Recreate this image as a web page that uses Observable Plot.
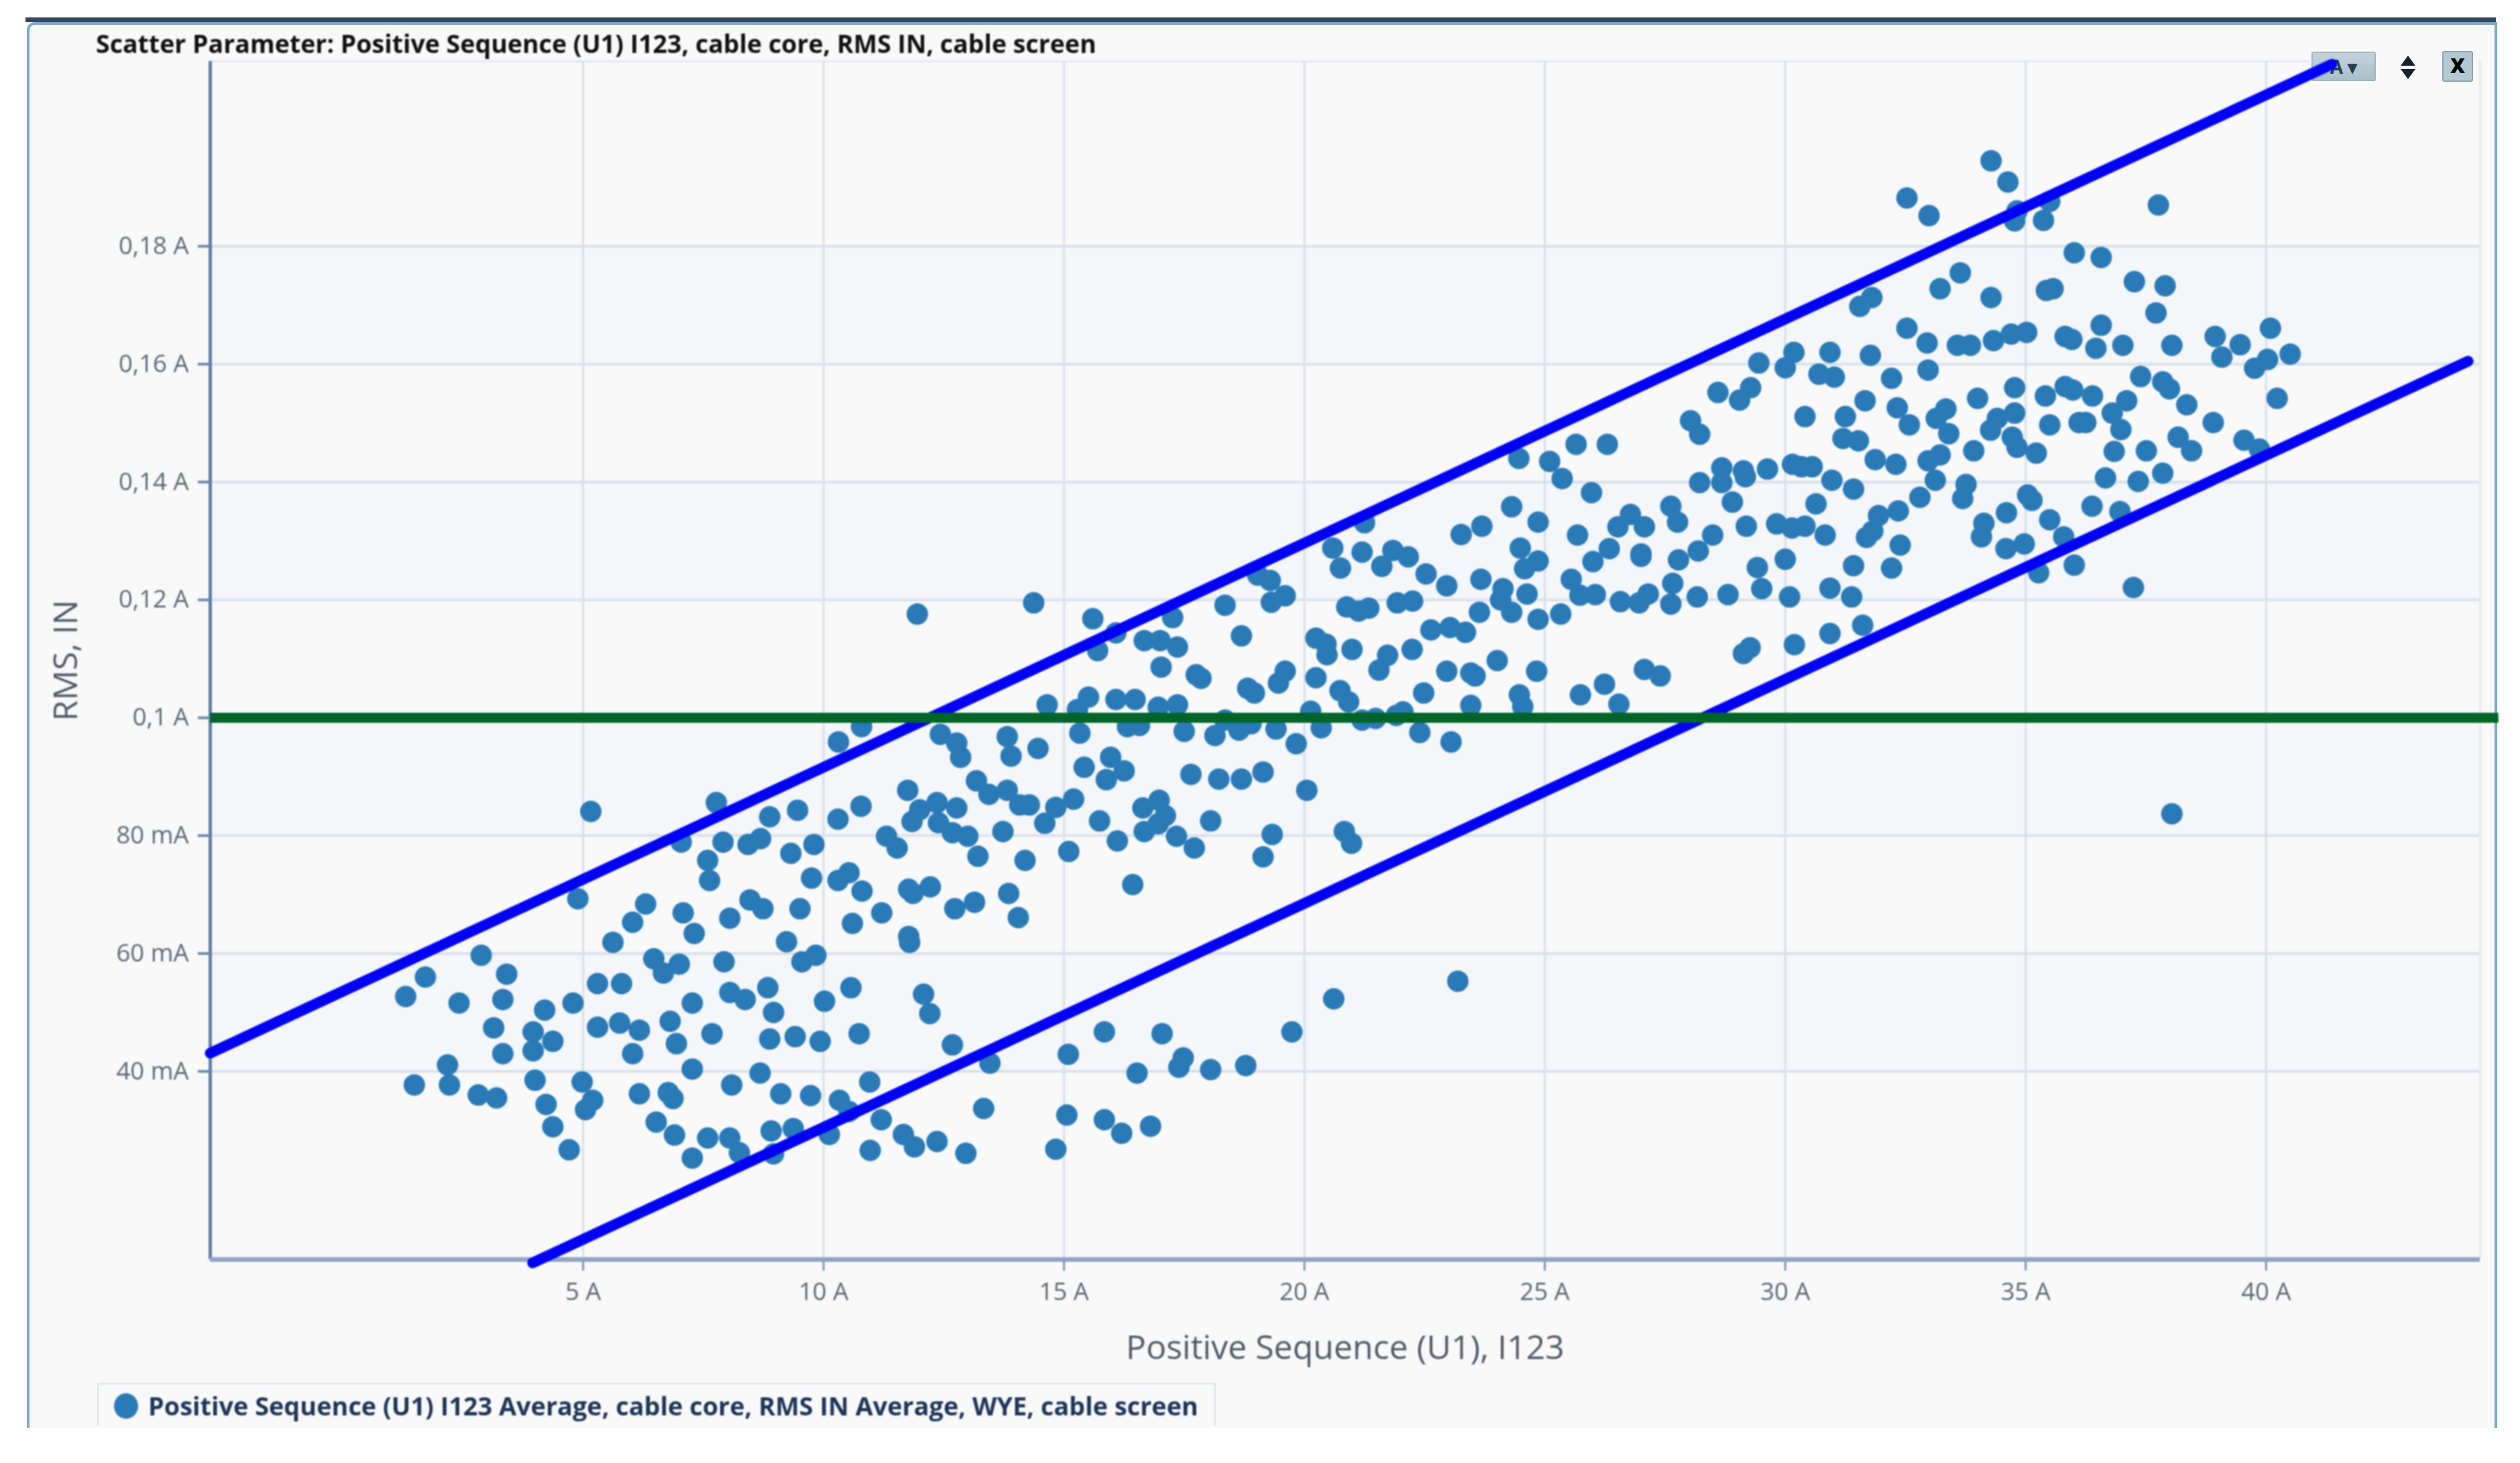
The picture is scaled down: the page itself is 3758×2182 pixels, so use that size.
<!DOCTYPE html>
<html lang="en">
<head>
<meta charset="utf-8">
<title>Scatter Parameter</title>
<script src="https://cdn.jsdelivr.net/npm/d3@7"></script>
<script src="https://cdn.jsdelivr.net/npm/@observablehq/plot@0.6"></script>
<style>
html,body{margin:0;padding:0;width:3758px;height:2182px;background:#fff;overflow:hidden}
body{position:relative;font-family:"Open Sans",sans-serif}
.abs{position:absolute}
#topbar{left:38px;top:26px;width:3684px;height:7px;background:#34495e}
#panel{left:40px;top:33px;width:3676px;height:2093px;background:#f9f9fa;border:4px solid #7ca8d2;border-bottom:none;border-top-left-radius:12px}
#title{left:143px;top:40px;font-size:37.5px;font-weight:700;color:#111;white-space:nowrap;line-height:50px;filter:blur(.8px)}
#legend{left:145px;top:2062px;width:1668px;height:64px;border:3px solid #e3e8f0;border-bottom:none;box-sizing:border-box}
#legendDot{left:170px;top:2078px;width:36px;height:38px;border-radius:50%;background:#2a7ab8;filter:blur(.8px)}
#legendText{left:221px;top:2072px;font-size:37.85px;font-weight:700;color:#1d3557;white-space:nowrap;line-height:50px;filter:blur(.8px)}
#btnA{left:3447px;top:77px;width:96px;height:44px;box-sizing:border-box;border:2px solid #9fb6c4;border-radius:3px;background:linear-gradient(#c3d3db,#a9c0cc);color:#25414f;font-size:28px;font-weight:700;line-height:40px;text-align:center}
#arrowUp{left:3580px;top:83px;width:0;height:0;border-left:11px solid transparent;border-right:11px solid transparent;border-bottom:15px solid #16222b}
#arrowDown{left:3580px;top:103px;width:0;height:0;border-left:11px solid transparent;border-right:11px solid transparent;border-top:15px solid #16222b}
#btnX{left:3642px;top:76px;width:46px;height:46px;box-sizing:border-box;border:2px solid #8ca6b5;border-radius:3px;background:#b4c8d3;color:#000;font-size:30px;font-weight:800;line-height:40px;text-align:center}
#chart{left:0;top:0;filter:blur(.8px)}
svg{display:block;background:transparent}
</style>
</head>
<body>
<div class="abs" id="topbar"></div>
<div class="abs" id="panel"></div>
<div class="abs" id="title">Scatter Parameter: Positive Sequence (U1) I123, cable core, RMS IN, cable screen</div>
<div class="abs" id="btnA">A ▾</div>
<div class="abs" id="legend"></div>
<div class="abs" id="legendDot"></div>
<div class="abs" id="legendText">Positive Sequence (U1) I123 Average, cable core, RMS IN Average, WYE, cable screen</div>
<div class="abs" id="chart"></div>
<div class="abs" id="arrowUp"></div>
<div class="abs" id="arrowDown"></div>
<div class="abs" id="btnX">X</div>
<script>
// [Positive Sequence I123 in A, RMS IN in mA]
const lowCurrentPoints = [
[5.16,84.1],[7.77,85.6],[7.04,78.9],[7.91,78.9],[8.43,78.5],[8.69,79.5],[8.88,83.2],[9.46,84.3],[10.3,82.8],[10.78,85],
[9.32,77],[9.8,78.5],[7.59,75.8],[7.63,72.4],[9.75,72.8],[10.3,72.4],[10.53,73.7],[10.8,70.6],[4.89,69.3],[6.3,68.4],
[6.03,65.3],[7.08,66.9],[7.31,63.4],[8.05,66],[8.47,69.1],[8.74,67.6],[9.51,67.6],[10.6,65.1],[9.23,62],[5.62,61.9],
[9.55,58.6],[9.84,59.7],[6.47,59.1],[7,58.2],[6.67,56.7],[7.93,58.6],[2.88,59.7],[3.41,56.5],[1.72,56],[1.31,52.7],
[2.42,51.6],[3.33,52.2],[4.2,50.4],[4.79,51.6],[5.3,54.9],[5.8,54.9],[8.05,53.4],[8.37,52.2],[8.84,54.2],[10.57,54.2],
[10.02,51.9],[7.27,51.6],[8.96,50],[6.81,48.5],[3.14,47.4],[3.96,46.7],[4.37,45.1],[3.96,43.5],[3.33,43],[5.3,47.5],
[5.76,48.2],[6.17,47],[6.03,43],[6.94,44.7],[7.68,46.4],[8.88,45.5],[9.41,45.9],[9.93,45.1],[10.74,46.4],[2.18,41.1],
[2.22,37.7],[1.49,37.7],[2.82,36],[3.2,35.5],[4,38.5],[4.98,38.2],[5.2,35.1],[5.05,33.5],[4.23,34.4],[4.37,30.6],
[4.71,26.7],[7.27,40.4],[8.68,39.7],[8.09,37.7],[6.17,36.2],[6.77,36.4],[6.87,35.4],[9.11,36.2],[9.73,35.9],[10.33,35.1],
[10.53,33.2],[10.96,38.2],[6.52,31.4],[6.9,29.2],[7.59,28.7],[8.05,28.7],[8.25,26.2],[7.27,25.3],[8.91,29.9],[9.37,30.3],
[8.96,26],[10.12,29.3],[10.97,26.6],
[11.21,66.9],[12.73,67.6],[13.14,68.7],[14.05,66.1],[11.77,62.9],[11.79,61.9],[12.08,53.1],[12.21,49.8],[12.68,44.5],[13.46,41.4],
[15.09,42.9],[15.84,46.7],[17.04,46.4],[16.52,39.7],[17.48,42.3],[17.39,40.7],[18.05,40.3],[18.78,41],[19.74,46.7],[20.61,52.3],
[11.2,31.8],[13.33,33.7],[11.66,29.3],[11.89,27.2],[12.36,28.1],[12.96,26.1],[14.83,26.8],[15.06,32.6],[15.84,31.8],[16.2,29.5],
[16.8,30.7]
];
const midCurrentPoints = [
[11.95,117.6],[14.37,119.5],[15.6,116.8],[16.08,114.4],[15.7,111.4],[16.67,113.1],[17,113.1],[17.36,112],[17.26,117],[18.35,119.1],
[19.03,124.2],[19.29,123.3],[19.6,120.7],[19.31,119.6],[18.69,113.9],[17.02,108.6],[17.75,107.3],[17.85,106.7],[18.82,105],[18.96,104.2],
[19.46,105.9],[19.6,107.9],[20.24,106.8],[20.24,113.5],[20.45,112.5],[20.47,110.7],[20.99,111.6],[20.59,128.8],[21.2,128.1],[20.75,125.4],
[21.25,133.1],[20.88,118.8],[21.13,118.1],[21.34,118.6],[20.74,104.6],[20.92,102.7],[20.13,101.1],[20.35,98.3],[21.2,99.6],[14.65,102.2],
[15.28,101.4],[15.51,103.5],[16.08,103.1],[16.48,103.1],[16.96,101.8],[17.36,102.2],[16.32,98.5],[16.57,98.7],[15.33,97.4],[17.5,97.7],
[18.14,97],[18.35,99.6],[18.64,97.9],[18.89,99],[19.41,98.1],[19.83,95.6],[10.79,98.5],[12.43,97.2],[12.77,95.7],[12.85,93.3],
[13.82,96.8],[13.9,93.5],[14.46,94.8],[10.31,95.9],[15.97,93.3],[16.25,91],[15.42,91.6],[15.88,89.5],[17.64,90.4],[18.22,89.6],
[18.69,89.6],[19.14,90.8],[20.05,87.7],[13.18,89.3],[13.44,87],[13.82,87.7],[14.08,85.2],[14.28,85.2],[14.83,84.8],[15.2,86.2],
[14.6,82.1],[11.75,87.7],[12,84.4],[12.36,85.6],[12.77,84.7],[11.84,82.4],[12.39,82.2],[12.68,80.5],[13,79.9],[13.73,80.7],
[11.31,79.9],[11.53,77.9],[13.21,76.5],[14.19,75.8],[15.1,77.3],[15.74,82.5],[16.11,79.1],[16.64,84.7],[16.98,86],[17.11,83.4],
[16.96,82],[16.67,80.7],[17.34,79.9],[17.71,77.9],[18.05,82.5],[19.33,80.2],[19.14,76.4],[16.43,71.7],[11.77,70.9],[11.86,70.2],
[12.22,71.3],[13.85,70.2],[20.83,80.7],[20.98,78.7],[23.19,55.3],[22.4,97.5],[23.05,95.9]
];
const upperMidPoints = [
[21.84,128.4],[22.16,127.3],[21.61,125.7],[22.53,124.4],[22.96,122.4],[23.67,123.5],[23.26,131.1],[23.69,132.5],[24.31,135.8],[24.86,133.2],
[24.46,144],[25.1,143.5],[25.36,140.6],[25.65,146.4],[26.3,146.4],[25.97,138.2],[25.68,131],[24.49,128.8],[24.86,126.6],[24.58,125.3],
[26.78,134.5],[26.52,132.4],[27.07,132.4],[26.34,128.7],[26,126.5],[27,127.8],[27,127.4],[27.62,135.9],[27.76,133.2],[27.78,126.8],
[28.19,128.3],[28.49,131],[28.03,150.4],[28.22,148.1],[28.6,155.2],[29.05,153.9],[29.28,156],[29.45,160.2],[30,159.4],[30.18,162],
[30.93,162],[30.7,158.3],[31.02,157.8],[31.77,161.5],[31.66,153.8],[30.41,151.1],[31.25,151.1],[31.2,147.4],[31.52,147],[31.87,143.8],
[28.22,139.9],[28.68,142.4],[28.68,139.9],[29.13,141.9],[29.17,140.9],[29.63,142.2],[30.15,143],[30.34,142.6],[30.56,142.6],[30.97,140.3],
[31.42,138.8],[28.9,136.6],[30.64,136.3],[29.19,132.5],[29.82,132.9],[30.14,132.2],[30.41,132.5],[30.83,131],[30,126.9],[29.42,125.5],
[29.51,121.9],[30.09,120.5],[30.93,122],[31.38,120.5],[31.42,125.8],[31.69,130.6],[31.82,131.7],[31.94,134.3],[27.66,122.8],[27.62,119.3],
[28.17,120.5],[28.81,120.9],[27.15,121],[26.96,119.5],[26.57,119.7],[26.05,120.9],[25.73,120.8],[25.55,123.5],[25.33,117.6],[24.86,116.7],
[24.63,121],[24.31,117.9],[24.13,121.9],[24.08,120],[23.64,117.9],[23.35,114.5],[23.03,115.3],[22.63,114.9],[22.24,111.6],[21.73,110.6],
[21.55,108.1],[22.96,107.9],[23.46,107.6],[23.55,107.1],[24.01,109.7],[24.83,107.9],[22.48,104.2],[24.47,103.9],[24.54,101.9],[23.46,102.1],
[25.74,103.9],[26.24,105.7],[26.54,102.3],[27.07,108.2],[27.4,107.1],[29.13,110.9],[29.27,111.9],[30.19,112.4],[30.93,114.3],[31.61,115.7],
[21.93,119.5],[22.25,119.8],[21.48,99.9],[21.91,100.4],[22.05,101]
];
const highCurrentPoints = [
[34.28,194.5],[34.63,190.9],[32.53,188.2],[32.99,185.2],[34.82,186],[34.77,184.3],[35.5,187.6],[35.37,184.4],[37.76,187],[36.01,178.9],
[36.57,178.1],[37.26,174],[37.9,173.3],[37.71,168.7],[33.64,175.5],[33.22,172.8],[34.28,171.3],[35.43,172.5],[35.57,172.8],[31.8,171.3],
[31.55,169.8],[32.53,166.1],[32.95,163.6],[32.97,159],[33.58,163.2],[33.85,163.2],[34.33,164],[34.7,165.1],[35.02,165.4],[35.82,164.7],
[35.96,164.2],[36.57,166.6],[36.46,162.7],[37.02,163.2],[38.04,163.2],[38.94,164.7],[39.46,163.3],[40.09,166.1],[39.08,161.2],[40.5,161.7],
[40.03,160.8],[39.76,159.3],[40.23,154.2],[37.39,157.9],[37.85,157],[37.99,155.8],[38.35,153.1],[38.9,150.1],[38.17,147.6],[38.45,145.3],
[39.54,147.1],[39.86,145.6],[37.51,145.3],[36.84,145.2],[37.85,141.5],[37.34,140.1],[36.66,140.7],[36.38,135.9],[36.96,135],[32.21,157.6],
[34.77,156],[34,154.2],[32.33,152.6],[33.34,152.4],[33.14,150.8],[32.58,149.7],[33.4,148.2],[34.77,151.7],[34.41,150.8],[34.27,148.8],
[35.41,154.6],[35.82,156.2],[35.98,155.6],[36.39,154.6],[37.1,153.8],[36.8,151.7],[36.98,148.9],[35.5,149.7],[36.11,150.1],[36.25,150.1],
[34.72,147.6],[34.82,145.9],[35.22,144.9],[32.3,143],[32.97,143.6],[33.22,144.6],[33.92,145.3],[33.12,140.3],[32.8,137.4],[33.76,139.6],
[33.69,137.2],[32.35,135.1],[32.39,129.3],[32.21,125.4],[34.13,133],[34.08,130.7],[34.6,134.8],[35.04,137.8],[35.13,136.9],[35.5,133.6],
[35.79,130.7],[34.59,128.7],[34.97,129.5],[36.01,125.9],[35.27,124.6],[37.24,122.1],[38.04,83.7]
];
const points = [...lowCurrentPoints, ...midCurrentPoints, ...upperMidPoints, ...highCurrentPoints];

const xDomain = [-2.755, 44.45];
const yDomain = [8.08, 211.38];
const xTicks = [5, 10, 15, 20, 25, 30, 35, 40];
const yTicks = [40, 60, 80, 100, 120, 140, 160, 180];
const bandLow = [40, 80, 120, 160];
const bandHigh = [60, 100, 140, 180];
const topEdgeEnd = 40.96;
const upperLimit = [[-2.755, 43.1], [41.37, 210.9]];
const lowerLimit = [[3.95, 7.5], [44.2, 160.5]];
const thresholdLine = [[-2.755, 100], [44.83, 100]];

const fmtY = v => v >= 100 ? String(v / 1000).replace(".", ",") + " A" : v + " mA";

const chart = Plot.plot({
  width: 3758,
  height: 2182,
  marginLeft: 313,
  marginRight: 60,
  marginTop: 91,
  marginBottom: 304,
  style: {fontFamily: '"Open Sans", sans-serif', background: "transparent", overflow: "visible"},
  x: {domain: xDomain, label: null},
  y: {domain: yDomain, label: null},
  marks: [
    Plot.rect(bandLow.map((v, i) => ({y1: v, y2: bandHigh[i]})), {
      x1: () => xDomain[0], x2: () => xDomain[1], y1: "y1", y2: "y2", fill: "#f4f6f9"
    }),
    Plot.ruleY(yTicks, {stroke: "#d9e1eb", strokeWidth: 4}),
    Plot.ruleY([yDomain[1]], {x1: xDomain[0], x2: topEdgeEnd, stroke: "#e3e8ee", strokeWidth: 3}),
    Plot.ruleX(xTicks, {stroke: "#d6dfea", strokeWidth: 3}),
    Plot.ruleX([xDomain[1]], {stroke: "#e3e9f0", strokeWidth: 3}),
    Plot.axisY({ticks: yTicks, tickFormat: fmtY, tickSize: 18, tickPadding: 14, fontSize: 36.5, stroke: "#6a87ad", strokeWidth: 4, fill: "#5d6875", label: null}),
    Plot.axisX({ticks: xTicks, tickFormat: d => d + " A", tickSize: 17, tickPadding: 18, fontSize: 36.5, stroke: "#7d93b3", strokeWidth: 3, fill: "#5d6875", label: null}),
    Plot.ruleX([xDomain[0]], {stroke: "#5f7fa8", strokeWidth: 5}),
    Plot.ruleY([yDomain[0]], {stroke: "#8fa5c2", strokeWidth: 7}),
    Plot.dot(points, {x: d => d[0], y: d => d[1], r: 16, fill: "#2a7ab8", stroke: "none"}),
    Plot.line(upperLimit, {x: d => d[0], y: d => d[1], stroke: "#0000f5", strokeWidth: 16, strokeLinecap: "round"}),
    Plot.line(lowerLimit, {x: d => d[0], y: d => d[1], stroke: "#0000f5", strokeWidth: 16, strokeLinecap: "round"}),
    Plot.line(thresholdLine, {x: d => d[0], y: d => d[1], stroke: "#006429", strokeWidth: 15, strokeLinecap: "butt"}),
    Plot.text(["Positive Sequence (U1), I123"], {frameAnchor: "bottom", dy: 148, fontSize: 50, fill: "#4f5b68"}),
    Plot.text(["RMS, IN"], {frameAnchor: "left", dx: -215, rotate: -90, textAnchor: "middle", fontSize: 50, fill: "#4f5b68"})
  ]
});
document.getElementById("chart").appendChild(chart);
</script>
</body>
</html>
